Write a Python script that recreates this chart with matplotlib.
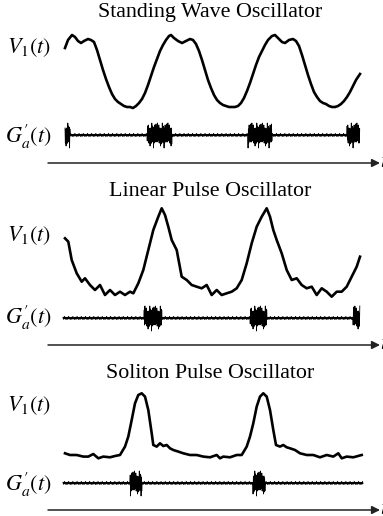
import numpy as np
from matplotlib import pyplot as plt

plt.rcParams['mathtext.fontset'] = 'stix'

titles = ['Standing Wave Oscillator', 'Linear Pulse Oscillator', 'Soliton Pulse Oscillator']

# V1(t) traces: time (arb. units) and height above the trace minimum
sw_t = [65, 68, 72, 75, 78, 81, 84, 88, 91, 94, 97, 100, 103, 106, 109, 112, 115, 118, 121, 124,
        127, 130, 133, 136, 139, 142, 145, 148, 151, 154, 157, 160, 163, 166, 169, 171, 174, 178,
        182, 186, 190, 193, 196, 199, 202, 205, 208, 211, 214, 217, 220, 223, 226, 229, 232, 235,
        238, 241, 244, 247, 250, 253, 256, 259, 262, 265, 268, 272, 275, 278, 282, 285, 289, 293,
        296, 299, 302, 305, 308, 311, 314, 317, 320, 323, 326, 329, 332, 335, 338, 341, 344, 347,
        350, 353, 356, 360]
sw_v = [60, 68, 73, 71, 67, 65, 67, 69, 68, 66, 58, 48, 38, 29, 21, 14, 9, 6, 4, 2,
        1, 1, 0, 2, 5, 9, 15, 23, 32, 41, 49, 57, 63, 68, 72, 73, 70, 67,
        65, 67, 69, 68, 64, 57, 48, 38, 28, 20, 13, 8, 5, 3, 2, 1, 1, 1,
        2, 5, 10, 17, 25, 34, 43, 51, 57, 63, 68, 72, 73, 70, 66, 65, 68, 69,
        67, 62, 53, 43, 33, 24, 16, 11, 7, 5, 4, 2, 1, 1, 2, 4, 7, 11,
        16, 22, 28, 34]

lp_t = [65, 68.3, 71.7, 76.7, 81.7, 85, 90, 95, 100, 105, 110, 115, 120, 125, 130, 133.3, 138.3,
        143.3, 148.3, 153.3, 158.3, 161.7, 165, 168.3, 171.7, 176.7, 181.7, 186.7, 191.7, 196.7,
        201.7, 206.7, 211.7, 216.7, 221.7, 226.7, 231.7, 236.7, 241.7, 246.7, 251.7, 256.7, 261.7,
        266.7, 270, 273.3, 276.7, 281.7, 286.7, 291.7, 296.7, 301.7, 306.7, 311.7, 316.7, 321.7,
        326.7, 331.7, 336.7, 341.7, 346.7, 351.7, 356.7, 360]
lp_v = [58.7, 55.3, 37, 23.7, 15.3, 18.7, 12, 7, 12, 2, 7, 2, 5.3, 2, 5.3, 3.7, 13.7,
        27, 47, 67, 80.3, 88.7, 82, 70.3, 57, 47, 20.3, 17, 12, 10.3,
        8.7, 12, 2, 7, 2, 3.7, 5.3, 8.7, 17, 33.7, 53.7, 70.3, 80.3,
        88.7, 80.3, 67, 57, 43.7, 27, 17, 18.7, 12, 8.7, 10.3, 2, 8.7,
        5.3, 0.3, 5.3, 5.3, 10.3, 20.3, 30.3, 40.3]

sp_t = [65, 70, 76.7, 83.3, 88.3, 93.3, 98.3, 103.3, 110, 115, 120, 125, 128.3, 131.7, 135, 138.3,
        141.7, 145, 148.3, 151.7, 153.3, 156.7, 160, 163.3, 166.7, 170, 173.3, 178.3, 183.3, 190,
        196.7, 203.3, 210, 216.7, 220, 223.3, 230, 236.7, 241.7, 246.7, 250, 253.3, 256.7, 260,
        263.3, 266.7, 270, 273.3, 276, 280, 283.3, 286.7, 290, 295, 300, 306.7, 313.3, 320, 326.7,
        333.3, 338.3, 341.7, 346.7, 353.3, 361.7]
sp_v = [5, 3.3, 3.3, 1.7, 1.7, 4.3, 0, 1.7, 1, 2.3, 3.3, 11.7, 21.7, 38.3, 55, 63.3,
        65, 61.7, 48.3, 25, 13.3, 11.7, 15, 12.3, 13.3, 10, 8.3, 6.7, 5, 3.3,
        3.3, 1.7, 1, 3.3, 0, 1.7, 1, 3.3, 3.3, 11.7, 21.7, 35, 51.7, 61.7,
        65, 61.7, 48.3, 28.3, 13.3, 11.7, 13.3, 11, 10, 8.3, 5, 3.3, 3.3, 1, 3.3,
        1.7, 5, 0, 1.7, 1, 3.3]

# G'_a(t): time span of the trace and of each noise burst
g_span = [(65, 360), (63, 360), (63, 363)]
g_bursts = [[(65, 70), (147, 172), (248, 272), (347, 360)],
            [(144, 162), (250, 267), (353, 360)],
            [(130, 142), (253, 265)]]
burst_amp = [7, 8, 6, 11, 7, 9, 5, 8, 12, 6, 9, 7, 8, 13, 6, 8, 10, 5, 9, 7, 11, 6, 8, 7,
             12, 6, 9, 5, 10, 8]
base_amp = [0.8, 1.2, 0.5, 1.0, 1.4, 0.6, 0.9, 1.1, 0.4, 1.3, 0.7, 1.0]

traces = [(sw_t, sw_v), (lp_t, lp_v), (sp_t, sp_v)]

# layout (pixel rows of each panel)
title_y = [13, 192, 373]
v_zero = [108, 297, 458.3]
v_lab_y = [48, 236, 406]
g_y = [135, 318, 483]
g_lab_y = [137, 318, 485]
arrow_y = [163, 345, 510]

fig = plt.figure(figsize=(3.83, 5.16), dpi=100)
ax = fig.add_axes([0, 0, 1, 1])
ax.set_xlim(0, 383)
ax.set_ylim(516, 0)
ax.axis('off')

for i in range(3):
    ax.text(210, title_y[i], titles[i], family='Liberation Serif', fontsize=15.8,
            ha='center', va='center')
    t, v = traces[i]
    ax.plot(t, v_zero[i] - np.array(v), color='black', lw=1.9, solid_joinstyle='round')
    ax.text(7, v_lab_y[i], r'$V_1(t)$', fontsize=16, ha='left', va='center')
    ax.text(5, g_lab_y[i], r"$G^{\prime}_{a}(t)$", fontsize=16, ha='left', va='center')

    # noisy G'_a trace
    gx = np.arange(g_span[i][0], g_span[i][1], 0.35)
    gy = []
    for k, x in enumerate(gx):
        inside = any(a <= x <= b for a, b in g_bursts[i])
        amp = burst_amp[k % len(burst_amp)] if inside else base_amp[k % len(base_amp)]
        gy.append(g_y[i] + amp * (1 if k % 2 else -1))
    ax.plot(gx, gy, color='black', lw=0.6)

    ax.annotate('', xy=(380, arrow_y[i]), xytext=(48, arrow_y[i]),
                arrowprops=dict(arrowstyle='-|>', lw=1.1, color='#222222',
                                mutation_scale=12, shrinkA=0, shrinkB=0))
    ax.text(380, arrow_y[i] - 2, r'$t$', fontsize=16, ha='left', va='center')

plt.savefig('out.png', dpi=100)
